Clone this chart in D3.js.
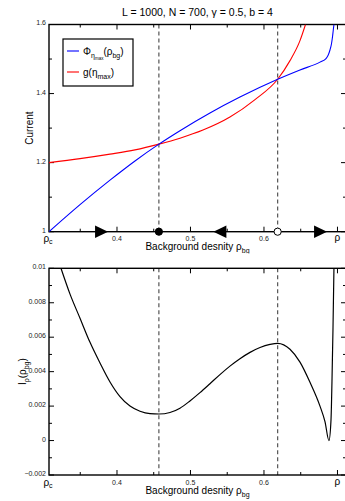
<!DOCTYPE html>
<html>
<head>
<meta charset="utf-8">
<script src="https://cdn.jsdelivr.net/npm/d3@7"></script>
<style>
  body { margin: 0; background: #fff; }
  svg { display: block; font-family: "Liberation Sans", Arial, sans-serif; }
</style>
</head>
<body>
<div id="chart"></div>
<script>
// x range of both panels
const rhoC = 0.3075;
const rhoMax = 0.7116;
const rhoTicks = [0.4, 0.5, 0.6];
const rhoMinor = [0.35, 0.45, 0.55, 0.65];
const rhoEnd = 0.7;

// fixed points (dashed lines)
const fixedPoints = [0.457, 0.6186];
const arrows = [{ x: 0.379, dir: 1 }, { x: 0.540, dir: -1 }, { x: 0.677, dir: 1 }];

// top panel: Phi and g
const phiRho = [0.3075, 0.3497, 0.3905, 0.4245, 0.4571, 0.4857, 0.5265, 0.5673, 0.6186, 0.649, 0.6762, 0.6844, 0.6871, 0.6898, 0.6918, 0.6932, 0.6943, 0.6952];
const phiVal = [1.000, 1.0783, 1.1493, 1.2049, 1.2536, 1.2925, 1.3438, 1.3899, 1.4415, 1.4684, 1.4910, 1.5014, 1.5101, 1.5261, 1.5435, 1.5638, 1.5841, 1.600];
const gRho = [0.3075, 0.3497, 0.3905, 0.4245, 0.4571, 0.4857, 0.517, 0.5537, 0.5878, 0.6186, 0.6354, 0.649, 0.6565];
const gVal = [1.200, 1.2116, 1.2246, 1.2370, 1.2536, 1.2707, 1.2942, 1.3319, 1.3826, 1.4415, 1.4954, 1.5533, 1.600];
const currentTicks = [1, 1.2, 1.4, 1.6];
const currentMinor = [1.1, 1.3, 1.5];

// bottom panel: I'_rho
const dRho = [0.3238, 0.3361, 0.3497, 0.3633, 0.3769, 0.3905, 0.4041, 0.4177, 0.4313, 0.4449, 0.4571, 0.4721, 0.4857, 0.4993, 0.5129, 0.5265, 0.5401, 0.5537, 0.5673, 0.5810, 0.5946, 0.6082, 0.6186, 0.6354, 0.6490, 0.6626, 0.6762, 0.6830, 0.6884, 0.6912, 0.6925, 0.6939, 0.6952];
const dVal = [0.0100, 0.0085, 0.0071, 0.0057, 0.0045, 0.0034, 0.00255, 0.0020, 0.0017, 0.00156, 0.00154, 0.00163, 0.00188, 0.0023, 0.00278, 0.0033, 0.00383, 0.00432, 0.00475, 0.00512, 0.0054, 0.00558, 0.005645, 0.0053, 0.00455, 0.00338, 0.0020, 0.0011, 0.0000, 0.0012, 0.0034, 0.0065, 0.0100];
const dTicks = [-0.002, 0, 0.002, 0.004, 0.006, 0.008, 0.01];
const dMinor = [-0.001, 0.001, 0.003, 0.005, 0.007, 0.009];

const width = 345, height = 501;
const left = 49, right = 346;

const svg = d3.select('#chart').append('svg')
  .attr('width', width)
  .attr('height', height);

const x = d3.scaleLinear().domain([rhoC, rhoMax]).range([left, right]);

function panel(g, y, yTicks, yMinor, yFmt, id) {
  const [y0, y1] = y.range();
  const top = y1, bottom = y0;

  g.append('clipPath').attr('id', id)
    .append('rect').attr('x', left).attr('y', top).attr('width', right - left).attr('height', bottom - top);

  // dashed fixed point lines
  g.selectAll('line.fp').data(fixedPoints).join('line')
    .attr('x1', d => x(d)).attr('x2', d => x(d))
    .attr('y1', top).attr('y2', bottom)
    .attr('stroke', '#555').attr('stroke-width', 1.2)
    .attr('stroke-dasharray', '4,3');

  // frame
  g.append('rect').attr('x', left).attr('y', top)
    .attr('width', right - left).attr('height', bottom - top)
    .attr('fill', 'none').attr('stroke', '#000').attr('stroke-width', 1.4);

  // ticks on all four sides, pointing inward
  const xt = rhoTicks.concat([rhoEnd]).map(v => ({ v, len: 5 }))
    .concat(rhoMinor.map(v => ({ v, len: 3 })));
  g.selectAll('line.xb').data(xt).join('line')
    .attr('x1', d => x(d.v)).attr('x2', d => x(d.v))
    .attr('y1', bottom).attr('y2', d => bottom - d.len)
    .attr('stroke', '#000').attr('stroke-width', 1);
  g.selectAll('line.xt').data(xt).join('line')
    .attr('x1', d => x(d.v)).attr('x2', d => x(d.v))
    .attr('y1', top).attr('y2', d => top + d.len)
    .attr('stroke', '#000').attr('stroke-width', 1);

  const yt = yTicks.map(v => ({ v, len: 5 })).concat(yMinor.map(v => ({ v, len: 3 })));
  g.selectAll('line.yl').data(yt).join('line')
    .attr('x1', left).attr('x2', d => left + d.len)
    .attr('y1', d => y(d.v)).attr('y2', d => y(d.v))
    .attr('stroke', '#000').attr('stroke-width', 1);
  g.selectAll('line.yr').data(yt).join('line')
    .attr('x1', right).attr('x2', d => right - d.len)
    .attr('y1', d => y(d.v)).attr('y2', d => y(d.v))
    .attr('stroke', '#000').attr('stroke-width', 1);

  // tick labels
  g.selectAll('text.yl').data(yTicks).join('text')
    .attr('x', left - 3).attr('y', d => y(d) - 1.5).attr('dy', '0.35em')
    .attr('text-anchor', 'end').attr('font-size', 7).attr('fill', '#222')
    .text(yFmt);
  g.selectAll('text.xl').data(rhoTicks).join('text')
    .attr('x', d => x(d)).attr('y', bottom + 9.5)
    .attr('text-anchor', 'middle').attr('font-size', 7).attr('fill', '#222')
    .text(d3.format('.1f'));

  const rc = g.append('text').attr('x', x(rhoC) - 1).attr('y', bottom + 10.5)
    .attr('text-anchor', 'middle').attr('font-size', 10);
  rc.append('tspan').text('ρ');
  rc.append('tspan').attr('font-size', 7).attr('dy', 2).text('c');
  g.append('text').attr('x', x(rhoEnd)).attr('y', bottom + 9.5)
    .attr('text-anchor', 'middle').attr('font-size', 10).text('ρ');

  const xl = g.append('text').attr('x', (left + right) / 2).attr('y', bottom + 18.5)
    .attr('text-anchor', 'middle').attr('font-size', 10);
  xl.append('tspan').text('Background desnity ρ');
  xl.append('tspan').attr('font-size', 7).attr('dy', 3).text('bg');
}

// ---- top panel ----
const yTop = d3.scaleLinear().domain([1, 1.6]).range([231.7, 24.5]);
const gTop = svg.append('g');

svg.append('text').attr('x', (left + right) / 2).attr('y', 16)
  .attr('text-anchor', 'middle').attr('font-size', 10.5)
  .text('L = 1000, N = 700, γ = 0.5, b = 4');

panel(gTop, yTop, currentTicks, currentMinor, d => d3.format('')(d), 'clipTop');

const lineTop = d3.line().x(d => x(d[0])).y(d => yTop(d[1])).curve(d3.curveMonotoneX);
gTop.append('path').datum(d3.zip(gRho, gVal))
  .attr('d', lineTop).attr('fill', 'none').attr('stroke', '#ff0000').attr('stroke-width', 1.1)
  .attr('clip-path', 'url(#clipTop)');
gTop.append('path').datum(d3.zip(phiRho, phiVal))
  .attr('d', lineTop).attr('fill', 'none').attr('stroke', '#0000ff').attr('stroke-width', 1.1)
  .attr('clip-path', 'url(#clipTop)');

// flow arrows and fixed points on the axis
const yAx = yTop(1);
gTop.selectAll('path.arrow').data(arrows).join('path')
  .attr('d', d => {
    const cx = x(d.x), h = 6.3, w = 6.5 * d.dir;
    return `M${cx - w},${yAx - h}L${cx + w},${yAx}L${cx - w},${yAx + h}Z`;
  })
  .attr('fill', '#000');
gTop.selectAll('circle.fp').data(fixedPoints).join('circle')
  .attr('cx', d => x(d)).attr('cy', yAx).attr('r', 3.6)
  .attr('fill', (d, i) => i === 0 ? '#000' : '#fff')
  .attr('stroke', '#000').attr('stroke-width', 1);

gTop.append('text').attr('transform', `translate(33,${(yTop.range()[0] + yTop.range()[1]) / 2}) rotate(-90)`)
  .attr('text-anchor', 'middle').attr('font-size', 10).text('Current');

// legend
const leg = gTop.append('g');
leg.append('rect').attr('x', 63).attr('y', 39).attr('width', 70).attr('height', 47)
  .attr('fill', '#fff').attr('stroke', '#000').attr('stroke-width', 1.2);
leg.append('line').attr('x1', 67).attr('x2', 79).attr('y1', 51).attr('y2', 51)
  .attr('stroke', '#0000ff').attr('stroke-width', 1.1);
leg.append('line').attr('x1', 67).attr('x2', 79).attr('y1', 72).attr('y2', 72)
  .attr('stroke', '#ff0000').attr('stroke-width', 1.1);
const t1 = leg.append('text').attr('x', 83).attr('y', 55).attr('font-size', 10);
t1.append('tspan').text('Φ');
t1.append('tspan').attr('font-size', 7).attr('dy', 2.5).text('η');
t1.append('tspan').attr('font-size', 4.5).attr('dy', 2).text('max');
t1.append('tspan').attr('dy', -4.5).text('(ρ');
t1.append('tspan').attr('font-size', 7).attr('dy', 2.5).text('bg');
t1.append('tspan').attr('dy', -2.5).text(')');
const t2 = leg.append('text').attr('x', 83).attr('y', 76).attr('font-size', 10);
t2.append('tspan').text('g(η');
t2.append('tspan').attr('font-size', 7).attr('dy', 2.5).text('max');
t2.append('tspan').attr('dy', -2.5).text(')');

// ---- bottom panel ----
svg.append('rect').attr('x', 0).attr('y', 253.5).attr('width', width).attr('height', height - 253.5)
  .attr('fill', '#fff');
const yBot = d3.scaleLinear().domain([-0.002, 0.01]).range([475, 268.3]);
const gBot = svg.append('g');
panel(gBot, yBot, dTicks, dMinor, d => d === 0 ? '0' : d3.format('')(+d.toFixed(3)), 'clipBot');

const lineBot = d3.line().x(d => x(d[0])).y(d => yBot(d[1])).curve(d3.curveMonotoneX);
gBot.append('path').datum(d3.zip(dRho, dVal))
  .attr('d', lineBot).attr('fill', 'none').attr('stroke', '#000').attr('stroke-width', 1.2)
  .attr('clip-path', 'url(#clipBot)');

const yl = gBot.append('text')
  .attr('transform', `translate(26,${(yBot.range()[0] + yBot.range()[1]) / 2}) rotate(-90)`)
  .attr('text-anchor', 'middle').attr('font-size', 10);
yl.append('tspan').text('I');
yl.append('tspan').attr('font-size', 7).attr('dy', 2.5).text('ρ');
yl.append('tspan').attr('dy', -2.5).text('(ρ');
yl.append('tspan').attr('font-size', 7).attr('dy', 2.5).text('bg');
yl.append('tspan').attr('dy', -2.5).text(')');
</script>
</body>
</html>
